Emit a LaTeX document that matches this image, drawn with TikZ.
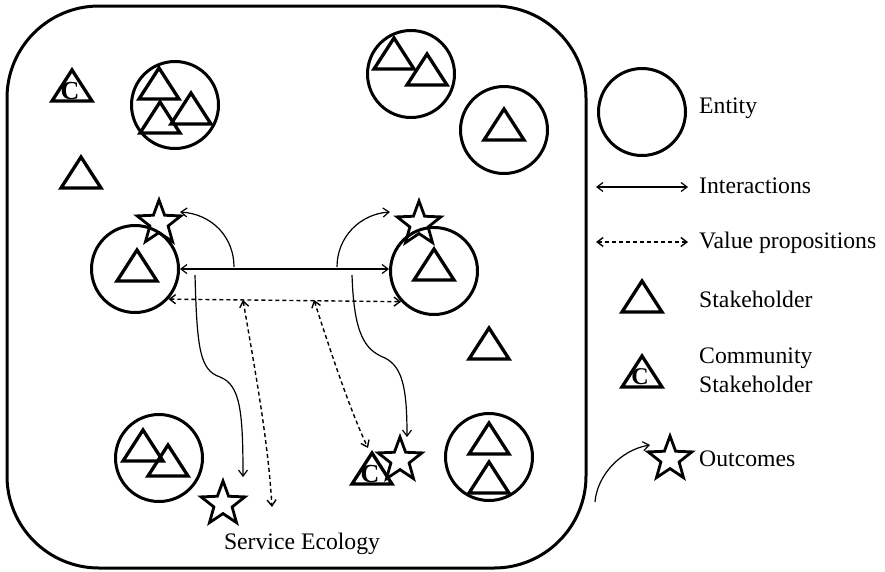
\documentclass[tikz,border=0pt]{standalone}
\usepackage{fontspec}
\setmainfont{Liberation Serif}
\usetikzlibrary{shapes.geometric,arrows.meta}
\tikzset{
  entity/.style={circle,draw,line width=3pt,minimum size=87pt,inner sep=0pt},
  outcome/.style={star,star points=5,star point ratio=2.4,draw,line width=2.8pt,minimum size=46pt,inner sep=0pt},
  stake/.pic={\draw[line width=3.3pt] (0,0)--(20,31)--(-20,31)--cycle;},
  cletter/.style={font=\fontsize{26}{26}\selectfont\bfseries,inner sep=0pt},
  conn/.style={line width=1.2pt,{Straight Barb[length=6pt,width=9pt]}-{Straight Barb[length=6pt,width=9pt]}},
  connend/.style={line width=1.2pt,-{Straight Barb[length=6pt,width=9pt]}},
  vp/.style={conn,line width=1.4pt,dash pattern=on 4pt off 3pt},
  lbl/.style={anchor=base west,inner sep=0pt,font=\fontsize{23.7}{29}\selectfont,align=left},
}
\begin{document}
\begin{tikzpicture}[x=1pt,y=-1pt]
\useasboundingbox (0,0) rectangle (885,571);
% outer box
\draw[line width=3pt,rounded corners=92pt] (7,6) rectangle (586,568);

% top-left community stakeholder and stakeholder
\pic at (72,70) {stake};
\node[cletter] (c1) at (70,91) {C};
\pic at (81,157) {stake};

% top-left entity with three stakeholders
\node[entity] (e1) at (175,105) {};
\pic at (159,68) {stake};
\pic at (191,93) {stake};
\pic at (160,102) {stake};

% top-right entities
\node[entity] (e2) at (411,74) {};
\pic at (394,38) {stake};
\pic at (427,54) {stake};
\node[entity] (e3) at (504,130) {};
\pic at (504,109) {stake};

% middle entities
\node[entity] (eL) at (135,269) {};
\pic at (137,250) {stake};
\node[entity] (eR) at (434,271) {};
\pic at (434,249) {stake};
\node[outcome] (sL) at (159,223) {};
\node[outcome] (sR) at (419,224) {};

% interactions between middle entities
\draw[conn] (eL.east) -- (eR.west |- eL.east);
\draw[vp] (eL.-42) -- (eR.-137);

% stand-alone stakeholder right
\pic at (489,328) {stake};

% bottom entities
\node[entity] (e4) at (159,458) {};
\pic at (143,430) {stake};
\pic at (168,445) {stake};
\node[entity] (e5) at (489,457) {};
\pic at (489,423) {stake};
\pic at (489,462) {stake};

% bottom outcome stars and community stakeholder
\node[outcome] (sB) at (223,504) {};
\pic at (372,453) {stake};
\node[cletter] (c2) at (370,474) {C};
\node[outcome] (sC) at (400,460) {};

% coordinates for connectors
\coordinate (a1) at (234,267);
\coordinate (a1e) at (180,212);
\coordinate (a2) at (337,267);
\coordinate (a2e) at (390,212);
\coordinate (d1) at (195,275);
\coordinate (d1e) at (243,477);
\coordinate (d2) at (352,275);
\coordinate (d2e) at (407,437);
\coordinate (v1) at (243,300);
\coordinate (v1e) at (272,507);
\coordinate (v2) at (314,300);
\coordinate (v2e) at (368,448);

\draw[connend] (a1) .. controls (234,237) and (212,214) .. (a1e);
\draw[connend] (a2) .. controls (337,237) and (360,214) .. (a2e);
\draw[connend] (d1) .. controls (197,350) and (200,370) .. (220,377) .. controls (240,385) and (243,410) .. (d1e);
\draw[connend] (d2) .. controls (354,335) and (365,350) .. (385,358) .. controls (403,367) and (407,390) .. (d2e);
\draw[vp] (v1) .. controls (255,370) and (268,440) .. (v1e);
\draw[vp] (v2) .. controls (330,350) and (350,410) .. (v2e);

\node[anchor=base,inner sep=0pt,font=\fontsize{23.7}{29}\selectfont] (title) at (302,549) {Service Ecology};

% legend
\node[entity] (le) at (642,112) {};
\node[lbl] (lt1) at (699,113) {Entity};
\coordinate (li1) at (596,187);
\coordinate (li2) at (688,187);
\draw[conn] (li1) -- (li2);
\node[lbl] (lt2) at (699,193) {Interactions};
\coordinate (lv1) at (596,242);
\coordinate (lv2) at (688,242);
\draw[vp] (lv1) -- (lv2);
\node[lbl] (lt3) at (699,248) {Value propositions};
\pic at (642,281) {stake};
\node[lbl] (lt4) at (699,307) {Stakeholder};
\pic at (642,356) {stake};
\node[cletter,font=\fontsize{24}{24}\selectfont\bfseries] (c3) at (640,377) {C};
\node[lbl] (lt5) at (699,392) {Community\\Stakeholder};
\node[outcome] (lo) at (670,459) {};
\node[lbl] (lt6) at (699,466) {Outcomes};
\coordinate (lo1) at (595,502);
\coordinate (lo2) at (650,445);
\draw[connend] (lo1) .. controls (597,476) and (620,450) .. (lo2);
\end{tikzpicture}
\end{document}
